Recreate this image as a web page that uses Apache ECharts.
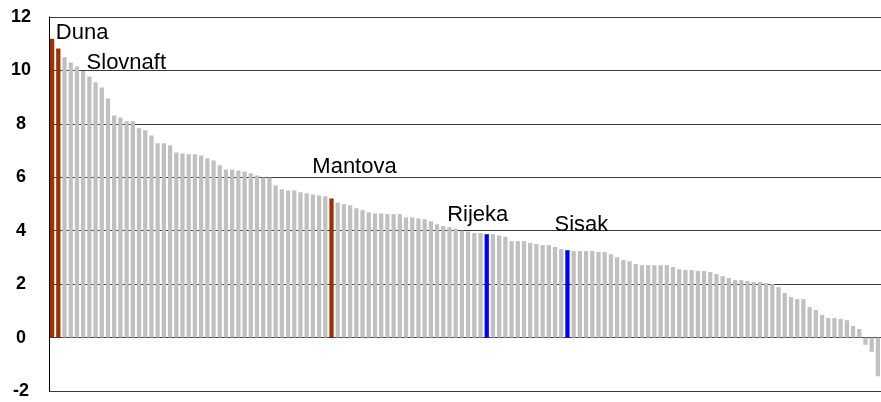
<!DOCTYPE html>
<html>
<head>
<meta charset="utf-8">
<script src="https://cdn.jsdelivr.net/npm/echarts@6/dist/echarts.min.js"></script>
<style>
html,body{margin:0;padding:0;background:#fff;}
#chart{width:881px;height:402px;}
</style>
</head>
<body>
<div id="chart"></div>
<script>
// Bar values, sorted descending
const values = [
  11.19, 10.82, 10.49, 10.30, 10.15, 9.98, 9.77, 9.56, 9.36, 8.95,
  8.31, 8.24, 8.10, 8.10, 7.84, 7.76, 7.56, 7.27, 7.27, 7.20,
  6.93, 6.89, 6.86, 6.86, 6.82, 6.71, 6.63, 6.45, 6.29, 6.29,
  6.25, 6.22, 6.15, 6.07, 5.99, 5.99, 5.70, 5.55, 5.51, 5.51,
  5.44, 5.40, 5.36, 5.32, 5.29, 5.21, 5.06, 4.99, 4.95, 4.84,
  4.77, 4.69, 4.65, 4.65, 4.62, 4.62, 4.62, 4.50, 4.50, 4.46,
  4.43, 4.35, 4.24, 4.17, 4.13, 4.08, 4.00, 3.97, 3.91, 3.91,
  3.87, 3.87, 3.82, 3.77, 3.61, 3.61, 3.61, 3.54, 3.50, 3.46,
  3.46, 3.39, 3.31, 3.27, 3.24, 3.24, 3.24, 3.24, 3.20, 3.20,
  3.12, 3.01, 2.90, 2.86, 2.75, 2.71, 2.71, 2.71, 2.71, 2.71,
  2.64, 2.56, 2.53, 2.53, 2.49, 2.49, 2.45, 2.38, 2.30, 2.23,
  2.15, 2.15, 2.12, 2.08, 2.08, 2.04, 2.00, 1.89, 1.67, 1.52,
  1.44, 1.44, 1.14, 1.03, 0.85, 0.73, 0.73, 0.70, 0.65, 0.43,
  0.32, -0.27, -0.53, -1.45
];
// Category ids (one per bar)
const categories = values.map((v, i) => 'R' + (i + 1));
// Named refineries and their bar index
const namedRefineries = ['Duna', 'Slovnaft', 'Mantova', 'Rijeka', 'Sisak'];
const namedIndex = [0, 1, 45, 70, 83];
// Y-axis ticks
const yTicks = [-2, 0, 2, 4, 6, 8, 10, 12];

// Styling (kept separate from data)
const namedColors = ['#993300', '#993300', '#993300', '#0000FF', '#0000FF'];
const labelOffsets = [[30, 5], [68, 25], [23, -20], [-9, -8], [14, -14]];
const baseColor = '#C0C0C0';

const seriesData = values.map((v, i) => {
  const k = namedIndex.indexOf(i);
  if (k < 0) return { value: v };
  return {
    value: v,
    itemStyle: { color: namedColors[k] },
    label: {
      show: true,
      position: 'top',
      distance: 0,
      offset: labelOffsets[k],
      formatter: namedRefineries[k],
      fontFamily: 'Liberation Sans, Arial, sans-serif',
      fontSize: 22,
      color: '#000'
    }
  };
});

const chart = echarts.init(document.getElementById('chart'), null, { renderer: 'canvas' });
chart.setOption({
  animation: false,
  backgroundColor: '#fff',
  grid: { left: 49, top: 17, width: 833, bottom: 11, containLabel: false },
  xAxis: {
    type: 'category',
    data: categories,
    axisLine: { show: false },
    axisTick: { show: false },
    axisLabel: { show: false },
    splitLine: { show: false }
  },
  yAxis: {
    type: 'value',
    min: yTicks[0],
    max: yTicks[yTicks.length - 1],
    interval: 2,
    axisLine: { show: true, lineStyle: { color: '#000', width: 1 } },
    axisTick: { show: false },
    axisLabel: {
      align: 'center',
      margin: 28,
      fontFamily: 'Liberation Sans, Arial, sans-serif',
      fontWeight: 'bold',
      fontSize: 18,
      color: '#000'
    },
    splitLine: { show: true, lineStyle: { color: '#3a3a3a', width: 1, type: 'solid' } }
  },
  series: [{
    type: 'bar',
    data: seriesData,
    barCategoryGap: '31%',
    itemStyle: { color: baseColor },
    label: { show: false }
  }]
});
</script>
</body>
</html>
